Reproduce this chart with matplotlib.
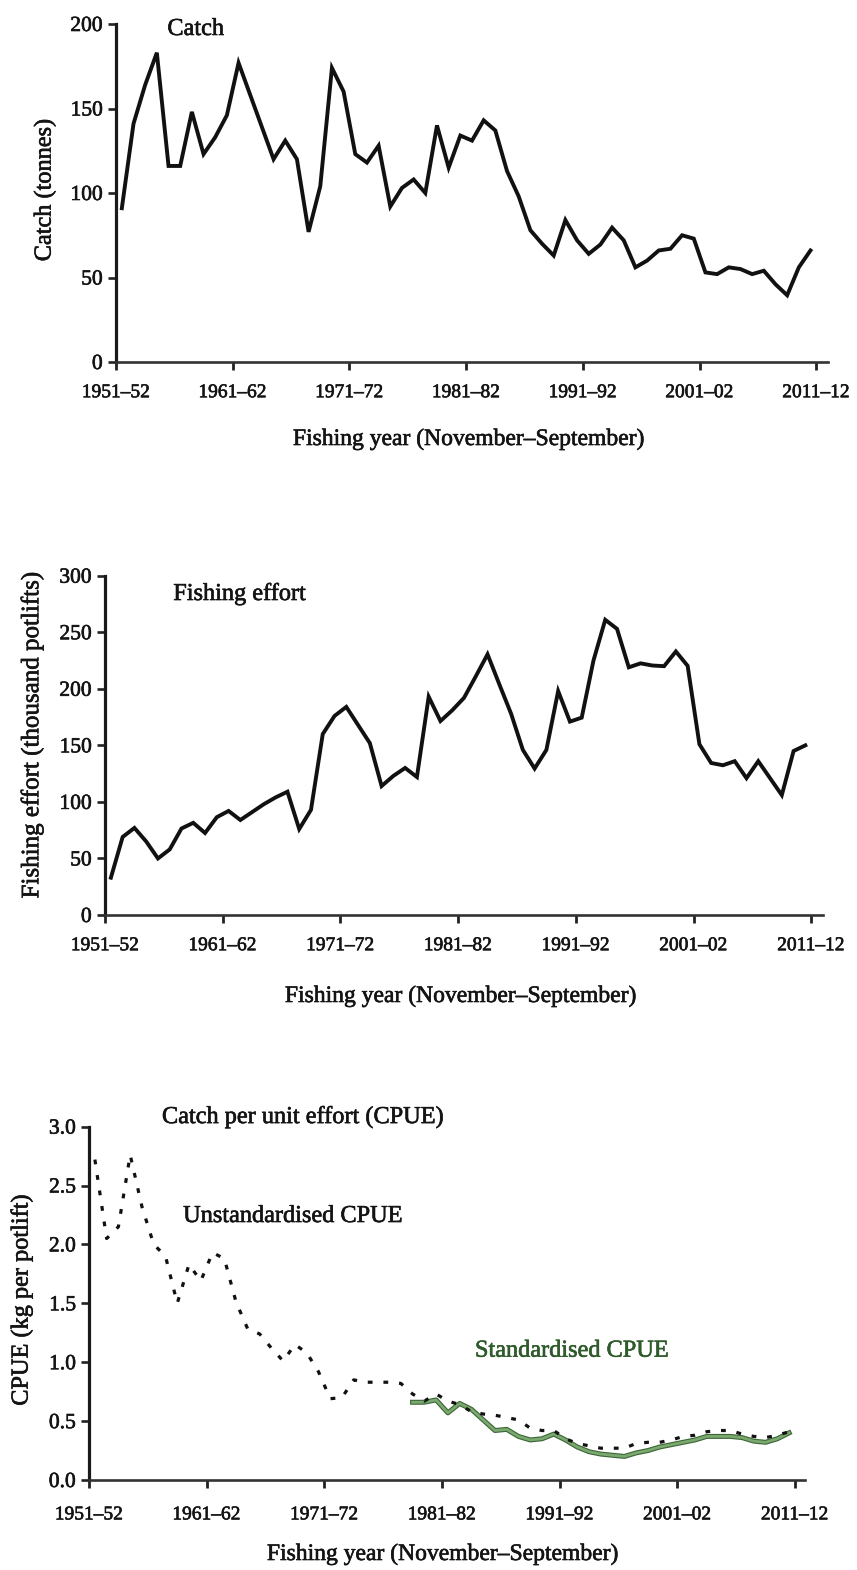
import numpy as np
import matplotlib
matplotlib.use("Agg")
import matplotlib.pyplot as plt
import matplotlib.patheffects as pe
from matplotlib.ticker import FormatStrFormatter, MultipleLocator

# Fishing years, keyed by the calendar year in which each one starts (1951 -> 1951-52)
years = np.arange(1951, 2011)

# Catch (tonnes)
catch_t = [91, 141, 164, 183, 116, 116, 148, 123, 133, 146,
           177, 158, 139, 120, 131, 120, 77, 104, 174, 160,
           123, 118, 128, 92, 103, 108, 100, 140, 115, 134,
           131, 143, 137, 113, 98, 78, 70, 63, 84, 72,
           64, 69.5, 79.5, 72, 56, 60, 66, 67, 75, 73,
           53, 52, 56, 55, 52, 54, 46, 39.5, 56, 66]

# Fishing effort (thousand potlifts)
effort_k = [33, 69, 77, 65, 50, 58, 76.5, 81.5, 72.5, 86.5,
            92, 84, 91, 98, 104, 109, 76, 93, 160, 176,
            184, 168, 152, 114, 123, 130, 122, 193, 171.5, 181,
            192, 211, 230.5, 204, 178, 146, 129.5, 146, 198, 171,
            174.5, 225, 261, 253, 219, 222.5, 220.6, 220, 233, 220.3,
            151, 134.4, 132.4, 136, 121, 136, 121, 106, 145, 150]

# Unstandardised CPUE (kg per potlift)
cpue_unstd = [2.72, 2.05, 2.15, 2.76, 2.32, 2.00, 1.90, 1.50, 1.83, 1.69,
              1.93, 1.88, 1.51, 1.28, 1.24, 1.12, 1.01, 1.15, 1.08, 0.92,
              0.69, 0.70, 0.85, 0.83, 0.83, 0.83, 0.82, 0.73, 0.67, 0.73,
              0.67, 0.64, 0.58, 0.56, 0.55, 0.53, 0.51, 0.44, 0.42, 0.42,
              0.35, 0.31, 0.29, 0.27, 0.27, 0.27, 0.31, 0.32, 0.32, 0.34,
              0.37, 0.38, 0.41, 0.42, 0.42, 0.39, 0.37, 0.36, 0.38, 0.41]

# Standardised CPUE (kg per potlift), available from 1978-79
std_years = np.arange(1978, 2011)
cpue_std = [0.66, 0.66, 0.68, 0.57, 0.65, 0.60, 0.51, 0.42, 0.43, 0.37,
            0.34, 0.35, 0.39, 0.34, 0.28, 0.24, 0.22, 0.21, 0.20, 0.23,
            0.25, 0.28, 0.30, 0.32, 0.34, 0.37, 0.37, 0.37, 0.36, 0.33,
            0.32, 0.35, 0.40]

tick_years = np.arange(1951, 2012, 10)
tick_labels = [f"{y}\u2013{(y + 1) % 100:02d}" for y in tick_years]
xlabel_text = "Fishing year (November\u2013September)"

plt.rcParams['font.family'] = ['Liberation Serif', 'DejaVu Serif']
INK = '#141414'
W, H = 857, 1570

# a thin outline of the glyphs in their own colour gives the print a slightly heavier weight
heavy = [pe.withStroke(linewidth=0.45, foreground=INK)]

fig = plt.figure(figsize=(W / 100, H / 100), dpi=100)


def panel(left, bottom, width, height):
    return fig.add_axes([left / W, 1 - bottom / H, width / W, height / H])


ax1 = panel(116, 362, 712, 338)
ax2 = panel(105, 915, 718, 339.3)
ax3 = panel(89, 1480, 716, 353.4)


def style(ax, xmax, ymax, ystep, ylabel, ylab_xy, xlab_xy, xpad):
    for side in ('top', 'right'):
        ax.spines[side].set_visible(False)
    ax.spines['left'].set_linewidth(2.3)
    ax.spines['left'].set_color('#1a1a1a')
    ax.spines['bottom'].set_linewidth(1.9)
    ax.spines['bottom'].set_color('#333333')
    ax.set_xlim(1951, xmax)
    ax.set_ylim(0, ymax)
    ax.set_xticks(tick_years)
    ax.set_xticklabels(tick_labels)
    ax.yaxis.set_major_locator(MultipleLocator(ystep))
    ax.tick_params(axis='x', direction='out', length=6, width=2.0,
                   pad=xpad, labelsize=14, colors='#222222', labelcolor=INK)
    ax.tick_params(axis='y', direction='out', length=5.5, width=1.9,
                   pad=4, labelsize=15.5, colors='#222222', labelcolor=INK)
    for lab in ax.get_xticklabels() + ax.get_yticklabels():
        lab.set_path_effects(heavy)
    ax.set_ylabel(ylabel, fontsize=17.5, color=INK, va='center', path_effects=heavy)
    ax.yaxis.set_label_coords(*ylab_xy)
    ax.set_xlabel(xlabel_text, fontsize=17, color=INK, va='baseline', path_effects=heavy)
    ax.xaxis.set_label_coords(*xlab_xy)
    ax.patch.set_alpha(0)


# Catch
ax1.plot(years + 0.5, catch_t, color='#111111', lw=2.8, solid_joinstyle='miter')
style(ax1, 2012, 200, 50, 'Catch (tonnes)', (-0.0997, 0.509), (0.4958, -0.2456), 10)
ax1.text(1955.4, 193.5, 'Catch', fontsize=17.5, color=INK, va='baseline',
         path_effects=heavy)

# Fishing effort
ax2.plot(years + 0.5, effort_k, color='#111111', lw=2.8, solid_joinstyle='miter')
style(ax2, 2012, 300, 50, 'Fishing effort (thousand potlifts)',
      (-0.1017, 0.5305), (0.4958, -0.2564), 10)
ax2.yaxis.label.set_fontsize(18)
ax2.text(1956.8, 278.5, 'Fishing effort', fontsize=17.5, color=INK, va='baseline',
         path_effects=heavy)

# CPUE
ax3.plot(std_years + 0.5, cpue_std, color='#7aa86f', lw=2.0, zorder=2,
         path_effects=[pe.Stroke(linewidth=3.6, foreground='#3b6636'), pe.Normal()])
ax3.plot(years + 0.5, cpue_unstd, color='#111111', lw=2.3, dashes=(1.5, 3.4), zorder=3)
style(ax3, 2011.85, 3.0, 0.5, 'CPUE (kg per potlift)', (-0.0936, 0.509),
      (0.4944, -0.2264), 13)
ax3.yaxis.set_major_formatter(FormatStrFormatter('%.1f'))
for lab in ax3.get_yticklabels():
    lab.set_path_effects(heavy)
ax3.text(1957.2, 3.03, 'Catch per unit effort (CPUE)', fontsize=17.5, color=INK,
         va='baseline', path_effects=heavy)
ax3.text(1959.0, 2.19, 'Unstandardised CPUE', fontsize=17.5, color=INK, va='baseline',
         path_effects=heavy)
ax3.text(1983.8, 1.047, 'Standardised CPUE', fontsize=17.5, color='#2f5a2b',
         va='baseline', path_effects=[pe.withStroke(linewidth=0.45, foreground='#2f5a2b')])

fig.savefig('out.png', dpi=100)
